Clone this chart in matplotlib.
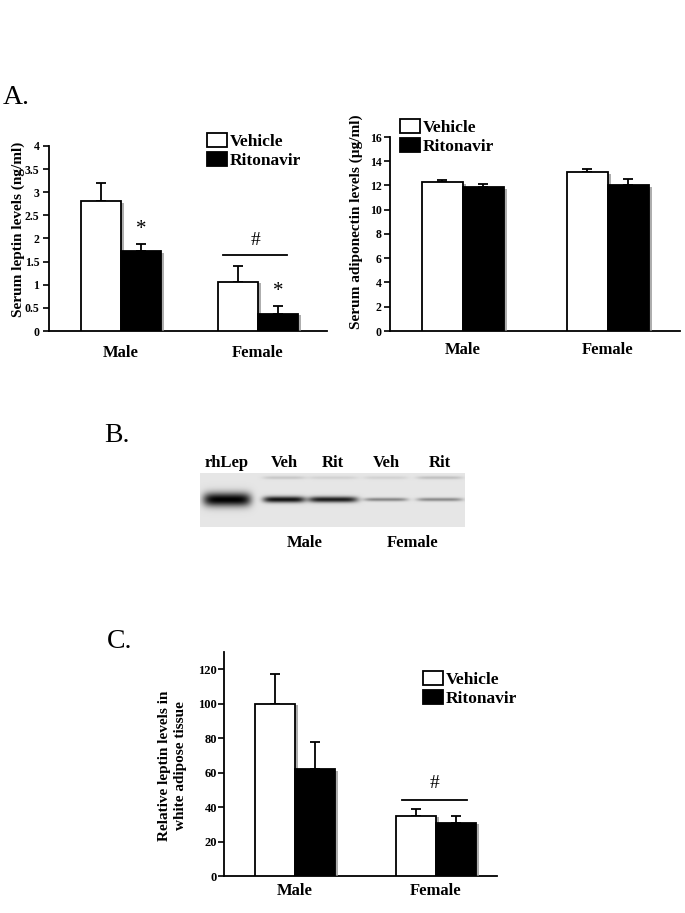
"""
Leptin / adiponectin levels after ritonavir treatment (panels A-C).
"""

import numpy as np
import matplotlib.pyplot as plt
from matplotlib.patches import Patch
import matplotlib.patheffects as pe

plt.rcParams["font.family"] = ["Liberation Serif", "DejaVu Serif"]

groups = ["Male", "Female"]
series = ["Vehicle", "Ritonavir"]

# Panel A, left: serum leptin (ng/ml)
leptin_veh = [2.8, 1.07]
leptin_veh_err = [0.40, 0.33]
leptin_rit = [1.72, 0.37]
leptin_rit_err = [0.16, 0.16]
leptin_ticks = [0, 0.5, 1, 1.5, 2, 2.5, 3, 3.5, 4]
leptin_tick_labels = ["0", "0.5", "1", "1.5", "2", "2.5", "3", "3.5", "4"]

# Panel A, right: serum adiponectin (ug/ml)
adipo_veh = [12.25, 13.1]
adipo_veh_err = [0.2, 0.3]
adipo_rit = [11.85, 12.0]
adipo_rit_err = [0.25, 0.5]
adipo_ticks = [0, 2, 4, 6, 8, 10, 12, 14, 16]

# Panel B: western blot lanes (relative band darkness)
lane_labels = ["rhLep", "Veh", "Rit", "Veh", "Rit"]
lane_intensity = [1.0, 0.92, 0.88, 0.42, 0.40]
lane_thickness = [7.0, 3.2, 3.0, 1.8, 1.8]
upper_band = [0.0, 0.12, 0.08, 0.08, 0.15]
blot_groups = ["Male", "Female"]

# Panel C: relative leptin in white adipose tissue
wat_veh = [100, 35]
wat_veh_err = [17, 4]
wat_rit = [62, 31]
wat_rit_err = [16, 4]
wat_ticks = [0, 20, 40, 60, 80, 100, 120]

W, H = 685, 913


def fx(px):
    return px / W


def fy(py):
    return 1 - py / H


def bar_panel(ax, veh, veh_err, rit, rit_err, width, xlim, ylim, ticks,
              ticklabels=None, xpad=8, ypad=2, ysize=8.5):
    x = np.arange(len(groups))
    shadow = [pe.SimplePatchShadow(offset=(2, -1), shadow_rgbFace="0.55", alpha=0.7), pe.Normal()]
    b1 = ax.bar(x - width / 2, veh, width, color="white", edgecolor="black", linewidth=1.3, zorder=3)
    b2 = ax.bar(x + width / 2, rit, width, color="black", edgecolor="black", linewidth=1.3, zorder=3)
    for b in list(b1) + list(b2):
        b.set_path_effects(shadow)
    ax.errorbar(x - width / 2, veh, yerr=[np.zeros(len(veh)), veh_err], fmt="none",
                ecolor="black", elinewidth=1.3, capsize=3.5, capthick=1.3, zorder=2)
    ax.errorbar(x + width / 2, rit, yerr=[np.zeros(len(rit)), rit_err], fmt="none",
                ecolor="black", elinewidth=1.3, capsize=3.5, capthick=1.3, zorder=2)
    ax.set_xlim(*xlim)
    ax.set_ylim(*ylim)
    ax.set_yticks(ticks)
    if ticklabels is not None:
        ax.set_yticklabels(ticklabels)
    ax.set_xticks(x)
    ax.set_xticklabels(groups, fontsize=12, fontweight="bold")
    ax.tick_params(axis="x", length=0, pad=xpad)
    ax.tick_params(axis="y", length=4, width=1.2, pad=ypad, labelsize=ysize)
    for lab in ax.get_yticklabels():
        lab.set_fontweight("bold")
    for s in ["top", "right"]:
        ax.spines[s].set_visible(False)
    for s in ["left", "bottom"]:
        ax.spines[s].set_linewidth(1.3)
    return b1, b2


def add_legend(fig, x, y):
    handles = [Patch(facecolor="white", edgecolor="black", linewidth=1.3),
               Patch(facecolor="black", edgecolor="black", linewidth=1.3)]
    fig.legend(handles, series, loc="upper left", bbox_to_anchor=(x, y),
               bbox_transform=fig.transFigure, frameon=False, borderpad=0,
               borderaxespad=0, handlelength=1.15, handleheight=0.85,
               handletextpad=0.15, labelspacing=0.12,
               prop={"weight": "bold", "size": 12.5})


fig = plt.figure(figsize=(6.85, 9.13), dpi=100)

# ---- Panel A left
ax1 = fig.add_axes([fx(49), fy(331), fx(327 - 49), (331 - 146) / H])
bar_panel(ax1, leptin_veh, leptin_veh_err, leptin_rit, leptin_rit_err, 0.292,
          (-0.526, 1.504), (0, 4), leptin_ticks, leptin_tick_labels, xpad=10, ypad=3)
ax1.set_ylabel("Serum leptin levels (ng/ml)", fontsize=11, fontweight="bold")
ax1.yaxis.set_label_coords(-0.086, 0.549)
for i in range(len(groups)):
    top = leptin_rit[i] + leptin_rit_err[i]
    ax1.text(i + 0.146, top + 0.12, "*", ha="center", va="bottom", fontsize=15)
ax1.plot([1 - 0.255, 1 + 0.21], [1.65, 1.65], color="black", lw=1.3)
ax1.text(1 - 0.02, 1.78, "#", ha="center", va="bottom", fontsize=14)
add_legend(fig, fx(207), fy(133))

# ---- Panel A right
ax2 = fig.add_axes([fx(390), fy(331), fx(680 - 390), (331 - 137) / H])
bar_panel(ax2, adipo_veh, adipo_veh_err, adipo_rit, adipo_rit_err, 0.283,
          (-0.503, 1.497), (0, 16), adipo_ticks, xpad=8, ypad=2)
ax2.set_ylabel("Serum adiponectin levels (\u00b5g/ml)", fontsize=11, fontweight="bold")
ax2.yaxis.set_label_coords(-0.093, 0.564)
add_legend(fig, fx(400), fy(119))

# ---- Panel B: blot
axb = fig.add_axes([fx(200), fy(527), fx(265), 54 / H])
xs = np.linspace(200, 465, 530)
ys = np.linspace(473, 527, 108)
XX, YY = np.meshgrid(xs, ys)
img = np.full(XX.shape, 0.90)
lane_x = [227, 284, 333, 386, 440]
lane_w = [24, 21, 25, 22, 23]
for cx, hw, inten, th, ub in zip(lane_x, lane_w, lane_intensity, lane_thickness, upper_band):
    prof_x = np.exp(-((XX - cx) / hw) ** 6)
    prof_y = np.exp(-((YY - 499.5) / th) ** 2)
    img -= 0.90 * inten * prof_x * prof_y
    img -= ub * prof_x * np.exp(-((YY - 477.5) / 1.6) ** 2)
img = np.clip(img, 0, 1)
axb.imshow(img, cmap="gray", vmin=0, vmax=1, extent=(200, 465, 527, 473), aspect="auto")
axb.set_xlim(200, 465)
axb.set_ylim(527, 473)
axb.axis("off")
for cx, lab in zip(lane_x, lane_labels):
    fig.text(fx(cx), fy(463), lab, ha="center", va="center", fontsize=12, fontweight="bold")
for cx, lab in zip([305, 413], blot_groups):
    fig.text(fx(cx), fy(543), lab, ha="center", va="center", fontsize=12, fontweight="bold")

# ---- Panel C
ax3 = fig.add_axes([fx(224), fy(876), fx(497 - 224), (876 - 652) / H])
bar_panel(ax3, wat_veh, wat_veh_err, wat_rit, wat_rit_err, 0.284,
          (-0.504, 1.433), (0, 130), wat_ticks, xpad=5, ypad=1, ysize=9)
ax3.set_ylabel("Relative leptin levels in\nwhite adipose tissue", fontsize=11,
               fontweight="bold", linespacing=1.3)
ax3.yaxis.set_label_coords(-0.136, 0.493)
ax3.plot([1 - 0.24, 1 + 0.22], [44, 44], color="black", lw=1.3)
ax3.text(1 - 0.01, 49, "#", ha="center", va="bottom", fontsize=14)
add_legend(fig, fx(423), fy(671))

# panel letters
fig.text(fx(3), fy(104), "A.", fontsize=20, ha="left", va="baseline")
fig.text(fx(104), fy(442), "B.", fontsize=20, ha="left", va="baseline")
fig.text(fx(107), fy(648), "C.", fontsize=20, ha="left", va="baseline")

fig.savefig("out.png", dpi=100)
